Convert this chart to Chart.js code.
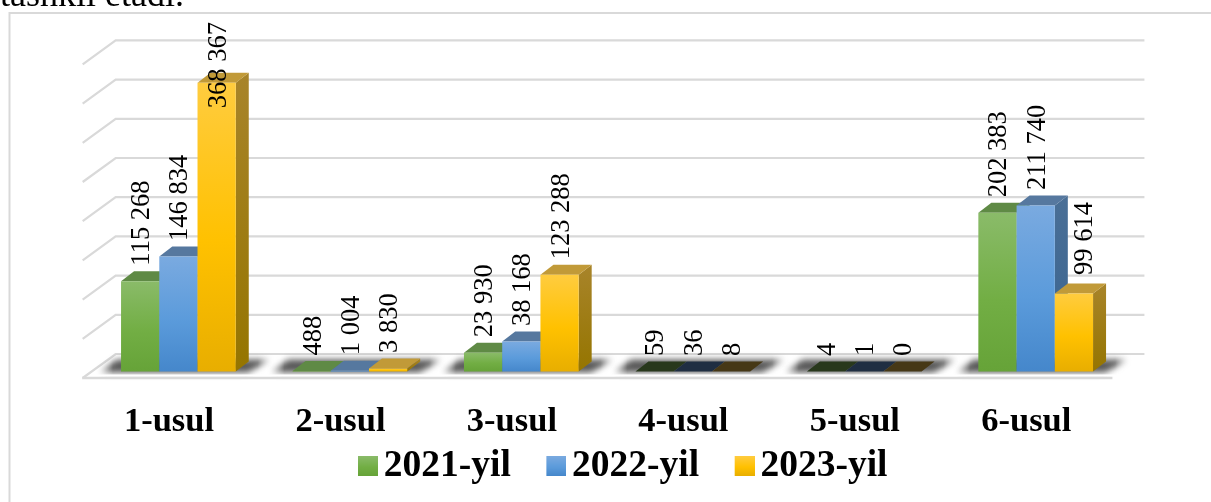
<!DOCTYPE html>
<html><head><meta charset="utf-8">
<style>html,body{margin:0;padding:0;background:#fff;overflow:hidden}canvas{display:block}</style>
<script src="https://cdn.jsdelivr.net/npm/chart.js@4/dist/chart.umd.js"></script>
</head><body>
<canvas id="c" width="1211" height="502"></canvas>
<script>
const categories = ["1-usul","2-usul","3-usul","4-usul","5-usul","6-usul"];
const series2021 = [115268, 488, 23930, 59, 4, 202383];
const series2022 = [146834, 1004, 38168, 36, 1, 211740];
const series2023 = [368367, 3830, 123288, 8, 0, 99614];
const seriesNames = ["2021-yil","2022-yil","2023-yil"];
const yMax = 400000, yStep = 50000;
const caption = "tashkil etadi.";

const SERIF = '"Liberation Serif", serif';
const ramps = [["#8abb69","#72ae44","#66a338"],["#7aaae0","#5b9bdb","#4587cb"],["#ffcc3f","#ffc100","#e8ae00"]];
const topFace = ["#5f8a45","#56789f","#c19a38"];
const topDark = ["#28381c","#1f2e42","#463816"];
const sideTop = ["#5f8a45","#4a6f96","#a8842a"];
const sideBot = ["#4f7a30","#386390","#957500"];
const GRID = "#d9d9d9";
const depth = {x:13, y:10};          // bar side depth
const wall = {x:23, y:-17.5};        // back wall relative to bars' plane
const floorFront = {x:-10.5, y:6.5}; // front floor edge relative to bars' plane
const slant = {x:33, y:24};
const nudges = {"2-5":{x:9,y:-3}};   // hand-placed label

function fmt(v){return String(v).replace(/\B(?=(\d{3})+$)/g," ");}

function swatch(i){
  const c=document.createElement("canvas");c.width=27;c.height=20;
  const g=c.getContext("2d");const l=g.createLinearGradient(0,0,0,20);
  l.addColorStop(0,ramps[i][0]);l.addColorStop(.55,ramps[i][1]);l.addColorStop(1,ramps[i][2]);
  g.fillStyle=l;g.fillRect(7,0,20,20);return c;
}
const swatches=[0,1,2].map(swatch);

function poly(ctx,pts,fill){
  ctx.beginPath();pts.forEach((p,i)=>i?ctx.lineTo(p[0],p[1]):ctx.moveTo(p[0],p[1]));ctx.closePath();
  ctx.fillStyle=fill;ctx.fill();
}

const scene={
  id:"scene",
  afterLayout(chart){
    const L=chart.legend,pad=L.options.labels.padding;
    L.left=364-pad; L.right=1211;
    L.top=466-18.5-pad; L.bottom=502;
  },
  beforeDatasetsDraw(chart){
    const {ctx,chartArea:a,scales:{y}}=chart;
    ctx.save();
    // frame and clipped caption
    ctx.strokeStyle=GRID;ctx.lineWidth=2;
    ctx.beginPath();ctx.moveTo(9.5,503);ctx.lineTo(9.5,13);ctx.lineTo(1212,13);ctx.stroke();
    ctx.fillStyle="#000";ctx.font="36px "+SERIF;ctx.textAlign="right";ctx.textBaseline="alphabetic";
    ctx.fillText(caption,184,6);
    // back wall + left wall gridlines
    const y0=y.getPixelForValue(0);
    const bl=a.left+wall.x, br=a.right+wall.x;
    ctx.strokeStyle=GRID;ctx.lineWidth=2.2;
    y.ticks.forEach(t=>{
      const py=y.getPixelForValue(t.value)+wall.y;
      ctx.beginPath();ctx.moveTo(bl-slant.x,py+slant.y);ctx.lineTo(bl,py);ctx.lineTo(br,py);ctx.stroke();
    });
    // shadows on the floor: soft horizontally, tight vertically
    const m0=chart.getDatasetMeta(0).data,m2=chart.getDatasetMeta(2).data;
    const OFF=3000;
    ctx.save();
    ctx.shadowColor="#505050";ctx.shadowBlur=6;ctx.shadowOffsetX=OFF;
    categories.forEach((_,i)=>{
      const l=m0[i].x-m0[i].width/2-OFF,r=m2[i].x+m2[i].width/2-OFF;
      const g0=l-26,g1=r+40,w=g1-g0;
      const g=ctx.createLinearGradient(g0,0,g1,0);
      g.addColorStop(0,"rgba(0,0,0,0)");g.addColorStop(18/w,"rgba(0,0,0,.95)");
      g.addColorStop(1-18/w,"rgba(0,0,0,.95)");g.addColorStop(1,"rgba(0,0,0,0)");
      poly(ctx,[[l-24,y0+1],[r+12,y0+1],[r+36,y0-12],[l-4,y0-12]],g);
    });
    ctx.restore();
    // floor front edge
    ctx.strokeStyle="#fff";ctx.lineWidth=2;
    ctx.beginPath();ctx.moveTo(a.left,y0+4);ctx.lineTo(a.right,y0+4);ctx.stroke();
    ctx.strokeStyle=GRID;ctx.lineWidth=2.4;
    ctx.beginPath();ctx.moveTo(a.left+floorFront.x,y0+floorFront.y);ctx.lineTo(a.right+floorFront.x+1.5,y0+floorFront.y);ctx.stroke();
    ctx.restore();
  },
  beforeDatasetDraw(){return false;},
  afterDatasetsDraw(chart){
    const {ctx,scales:{y}}=chart;
    const y0=y.getPixelForValue(0);
    [0,1,2].forEach(d=>{
      const ds=chart.data.datasets[d];
      chart.getDatasetMeta(d).data.forEach((b,i)=>{
        const x1=b.x-b.width/2,x2=b.x+b.width/2,t=b.y;
        const v=ds.data[i];
        const s=ctx.createLinearGradient(0,t-depth.y,0,y0);
        s.addColorStop(0,sideTop[d]);s.addColorStop(1,sideBot[d]);
        poly(ctx,[[x2,t],[x2+depth.x,t-depth.y],[x2+depth.x,y0-depth.y],[x2,y0]],s);
        poly(ctx,[[x1,t],[x2,t],[x2+depth.x,t-depth.y],[x1+depth.x,t-depth.y]],v<100?topDark[d]:topFace[d]);
        b.draw(ctx);
      });
    });
    ctx.save();
    ctx.fillStyle="#000";ctx.font="26.5px "+SERIF;ctx.textAlign="left";ctx.textBaseline="middle";
    [0,1,2].forEach(d=>{
      const ds=chart.data.datasets[d];
      chart.getDatasetMeta(d).data.forEach((b,i)=>{
        const txt=fmt(ds.data[i]),w=ctx.measureText(txt).width;
        const n=nudges[d+"-"+i]||{x:0,y:0};
        const py=Math.max(b.y-15.5+n.y,22+w);
        ctx.save();ctx.translate(b.x+2+n.x,py);ctx.rotate(-Math.PI/2);ctx.fillText(txt,0,0);ctx.restore();
      });
    });
    ctx.restore();
  }
};

function fill(i){
  return c=>{
    const y=c.chart.scales.y;
    const v=c.raw===undefined?0:c.raw;
    const g=c.chart.ctx.createLinearGradient(0,y.getPixelForValue(v),0,y.getPixelForValue(0));
    g.addColorStop(0,ramps[i][0]);g.addColorStop(.55,ramps[i][1]);g.addColorStop(1,ramps[i][2]);
    return g;
  };
}

new Chart(document.getElementById("c"),{
  type:"bar",
  plugins:[scene],
  data:{labels:categories,datasets:[
    {label:seriesNames[0],data:series2021,backgroundColor:fill(0)},
    {label:seriesNames[1],data:series2022,backgroundColor:fill(1)},
    {label:seriesNames[2],data:series2023,backgroundColor:fill(2)}
  ]},
  options:{
    responsive:false,animation:false,
    categoryPercentage:.669,barPercentage:1,
    layout:{padding:{left:92.67,right:89.57,top:57.9,bottom:59.5}},
    scales:{
      x:{grid:{display:false,drawTicks:false},border:{display:false},
         afterFit(s){s.height=70;},
         ticks:{color:"#000",padding:30,labelOffset:-9.4,maxRotation:0,font:{family:SERIF,size:34.5,weight:"bold"}}},
      y:{min:0,max:yMax,grid:{display:false,drawTicks:false},border:{display:false},
         ticks:{display:false,stepSize:yStep}}
    },
    plugins:{
      tooltip:{enabled:false},
      legend:{position:"bottom",align:"start",maxHeight:1,labels:{
        usePointStyle:true,pointStyleWidth:1,padding:41.5,color:"#000",
        font:{family:SERIF,size:37.5,weight:"bold"},
        generateLabels:ch=>ch.data.datasets.map((d,i)=>({text:d.label,fontColor:"#000",pointStyle:swatches[i],datasetIndex:i,hidden:false,lineWidth:0}))
      }}
    }
  }
});
</script>
</body></html>
